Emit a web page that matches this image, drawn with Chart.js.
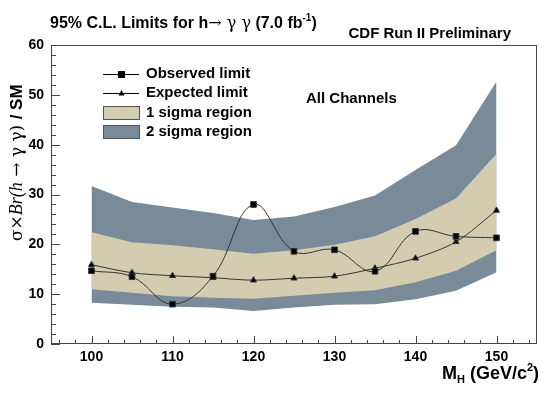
<!DOCTYPE html>
<html>
<head>
<meta charset="utf-8">
<script src="https://cdn.jsdelivr.net/npm/chart.js@4/dist/chart.umd.min.js"></script>
<style>
  body { margin: 0; background: #fff; }
  canvas { display: block; }
</style>
</head>
<body>
<canvas id="limitChart" width="550" height="394"></canvas>
<script>
// Higgs mass points (GeV/c^2)
const masses = [100, 105, 110, 115, 120, 125, 130, 135, 140, 145, 150];
const observed = [14.7, 13.5, 8.0, 13.6, 28.0, 18.6, 18.9, 14.6, 22.6, 21.6, 21.3];
const expected = [15.9, 14.3, 13.7, 13.3, 12.8, 13.2, 13.6, 15.2, 17.2, 20.5, 26.8];
const sigma1Up = [22.4, 20.4, 19.8, 19.0, 18.1, 18.8, 19.9, 21.6, 25.1, 29.2, 38.2];
const sigma1Down = [11.0, 10.3, 9.6, 9.3, 9.1, 9.7, 10.3, 10.8, 12.4, 14.7, 18.8];
const sigma2Up = [31.7, 28.5, 27.4, 26.3, 24.9, 25.6, 27.5, 29.8, 34.9, 39.9, 52.7];
const sigma2Down = [8.3, 7.9, 7.5, 7.3, 6.6, 7.3, 7.9, 8.0, 9.0, 10.7, 14.4];

const xTicks = [100, 110, 120, 130, 140, 150];
const yTicks = [0, 10, 20, 30, 40, 50, 60];

const COL_1S = '#d3ccb0';
const COL_2S = '#798b98';
const SANS = '"Liberation Sans", Arial, sans-serif';

function pts(vals) {
  return masses.map((m, i) => ({ x: m, y: vals[i] }));
}

function drawTriangle(ctx, x, y, r) {
  ctx.beginPath();
  ctx.moveTo(x, y - r);
  ctx.lineTo(x + r, y + r * 0.8);
  ctx.lineTo(x - r, y + r * 0.8);
  ctx.closePath();
  ctx.fill();
}

// draws a row of [text, font, dy] pieces, returns end x
function drawPieces(ctx, pieces, x, y) {
  pieces.forEach(([txt, f, dy]) => {
    ctx.font = f;
    ctx.fillText(txt, x, y + (dy || 0));
    x += ctx.measureText(txt).width;
  });
  return x;
}

// frame, inward ticks, legend and text labels
const decorations = {
  id: 'decorations',
  afterDraw(chart) {
    const ctx = chart.ctx;
    const area = chart.chartArea;
    const xs = chart.scales.x;
    const ys = chart.scales.y;
    ctx.save();

    // frame
    ctx.strokeStyle = '#444';
    ctx.lineWidth = 1;
    ctx.strokeRect(area.left + 0.5, area.top + 0.5, area.right - area.left - 1, area.bottom - area.top - 1);

    // ticks pointing inward
    ctx.beginPath();
    for (let v = 96; v <= 154; v += 2) {
      const px = Math.round(xs.getPixelForValue(v)) + 0.5;
      const len = v % 10 === 0 ? 8 : 4;
      ctx.moveTo(px, area.bottom);
      ctx.lineTo(px, area.bottom - len);
    }
    for (let v = 0; v <= 60; v += 2) {
      const py = Math.round(ys.getPixelForValue(v)) + 0.5;
      const len = v % 10 === 0 ? 9 : 5;
      ctx.moveTo(area.left, py);
      ctx.lineTo(area.left + len, py);
    }
    ctx.stroke();

    // titles
    ctx.fillStyle = '#000';
    ctx.textBaseline = 'alphabetic';
    ctx.textAlign = 'left';
    drawPieces(ctx, [
      ['95% C.L. Limits for h', 'bold 16px ' + SANS],
      ['\u2192 \u03b3 \u03b3', '16px "DejaVu Serif", serif'],
      [' (7.0 fb', 'bold 16px ' + SANS],
      ['-1', 'bold 10px ' + SANS, -7],
      [')', 'bold 16px ' + SANS]
    ], 50, 28);

    ctx.textAlign = 'right';
    ctx.font = 'bold 15px ' + SANS;
    ctx.fillText('CDF Run II Preliminary', 511, 38);

    ctx.textAlign = 'left';
    ctx.font = 'bold 15px ' + SANS;
    ctx.fillText('All Channels', 306, 103);

    // x axis title
    drawPieces(ctx, [
      ['M', 'bold 18px ' + SANS],
      ['H', 'bold 11px ' + SANS, 4],
      [' (GeV/c', 'bold 18px ' + SANS],
      ['2', 'bold 11px ' + SANS, -8],
      [')', 'bold 18px ' + SANS]
    ], 442, 379);

    // y axis title (rotated)
    ctx.save();
    ctx.translate(22, 241);
    ctx.rotate(-Math.PI / 2);
    drawPieces(ctx, [
      ['\u03c3\u00d7', '17px "DejaVu Serif", serif'],
      ['Br(h', 'italic 18px "Liberation Serif", serif'],
      [' \u2192 \u03b3 \u03b3) ', '17px "DejaVu Serif", serif'],
      ['/ SM', 'bold 17px ' + SANS]
    ], 0, 0);
    ctx.restore();

    // legend
    ctx.font = 'bold 15px ' + SANS;
    ctx.textBaseline = 'middle';
    const lx = 103, lw = 36, textX = 146;
    const rows = [74, 93, 113, 132];
    ctx.strokeStyle = '#000';
    ctx.lineWidth = 1;
    ctx.beginPath();
    ctx.moveTo(lx, rows[0] + 0.5);
    ctx.lineTo(lx + lw, rows[0] + 0.5);
    ctx.moveTo(lx, rows[1] + 0.5);
    ctx.lineTo(lx + lw, rows[1] + 0.5);
    ctx.stroke();
    ctx.fillStyle = '#000';
    ctx.fillRect(lx + lw / 2 - 3, rows[0] - 3, 7, 7);
    drawTriangle(ctx, lx + lw / 2 + 0.5, rows[1], 3);
    ctx.fillStyle = COL_1S;
    ctx.fillRect(lx, rows[2] - 7, lw, 14);
    ctx.fillStyle = COL_2S;
    ctx.fillRect(lx, rows[3] - 7, lw, 14);
    ctx.strokeStyle = '#555';
    ctx.strokeRect(lx + 0.5, rows[2] - 6.5, lw, 13);
    ctx.strokeRect(lx + 0.5, rows[3] - 6.5, lw, 13);
    ctx.fillStyle = '#000';
    ctx.fillText('Observed limit', textX, rows[0]);
    ctx.fillText('Expected limit', textX, rows[1]);
    ctx.fillText('1 sigma region', textX, rows[2]);
    ctx.fillText('2 sigma region', textX, rows[3]);

    ctx.restore();
  }
};

const ctx = document.getElementById('limitChart').getContext('2d');
new Chart(ctx, {
  type: 'line',
  data: {
    datasets: [
      {
        label: 'Observed limit',
        data: pts(observed),
        borderColor: '#333',
        borderWidth: 1,
        backgroundColor: '#000',
        pointStyle: 'rect',
        pointRadius: 4,
        tension: 0.4,
        fill: false,
        order: 0
      },
      {
        label: 'Expected limit',
        data: pts(expected),
        borderColor: '#333',
        borderWidth: 1,
        backgroundColor: '#000',
        pointStyle: 'triangle',
        pointRadius: 3.5,
        tension: 0.3,
        fill: false,
        order: 1
      },
      {
        label: '1 sigma region',
        data: pts(sigma1Up),
        borderWidth: 0,
        pointRadius: 0,
        backgroundColor: COL_1S,
        fill: '+1',
        tension: 0,
        order: 2
      },
      {
        label: '1 sigma low',
        data: pts(sigma1Down),
        borderWidth: 0,
        pointRadius: 0,
        fill: false,
        tension: 0,
        order: 2
      },
      {
        label: '2 sigma region',
        data: pts(sigma2Up),
        borderWidth: 0,
        pointRadius: 0,
        backgroundColor: COL_2S,
        fill: '+1',
        tension: 0,
        order: 3
      },
      {
        label: '2 sigma low',
        data: pts(sigma2Down),
        borderWidth: 0,
        pointRadius: 0,
        fill: false,
        tension: 0,
        order: 3
      }
    ]
  },
  options: {
    responsive: false,
    animation: false,
    layout: { padding: { top: 45, right: 13, left: 0, bottom: 0 } },
    scales: {
      x: {
        type: 'linear',
        min: 95,
        max: 155,
        grid: { display: false, drawTicks: false },
        border: { display: false },
        afterBuildTicks: s => { s.ticks = xTicks.map(v => ({ value: v })); },
        afterFit: s => { s.height = 50; },
        ticks: {
          padding: 5,
          color: '#000',
          font: { family: SANS, size: 14, weight: 'bold' }
        }
      },
      y: {
        min: 0,
        max: 60,
        grid: { display: false, drawTicks: false },
        border: { display: false },
        afterBuildTicks: s => { s.ticks = yTicks.map(v => ({ value: v })); },
        afterFit: s => { s.width = 51; },
        ticks: {
          padding: 7,
          color: '#000',
          font: { family: SANS, size: 14, weight: 'bold' }
        }
      }
    },
    plugins: {
      legend: { display: false },
      tooltip: { enabled: false }
    }
  },
  plugins: [decorations]
});
</script>
</body>
</html>
